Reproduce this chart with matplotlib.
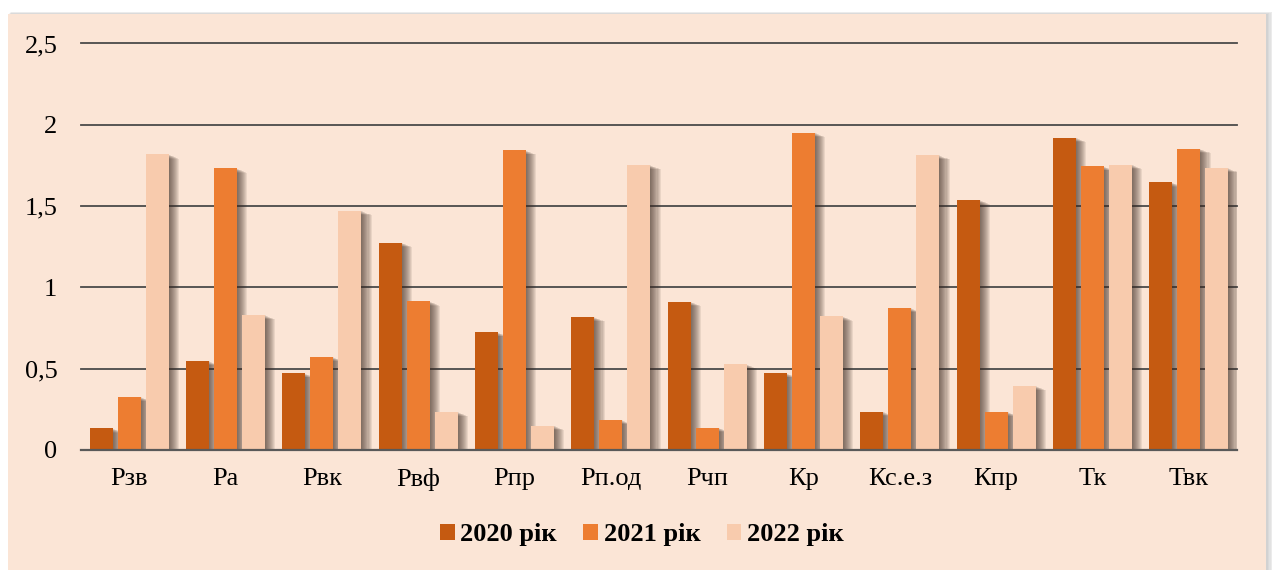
import matplotlib
matplotlib.use("Agg")
import matplotlib.pyplot as plt
import numpy as np
from matplotlib import patheffects as pe
from matplotlib.patches import Rectangle

categories = ["Рзв", "Ра", "Рвк", "Рвф", "Рпр", "Рп.од", "Рчп", "Кр", "Кс.е.з", "Кпр", "Тк", "Твк"]
series_names = ["2020 рік", "2021 рік", "2022 рік"]
values_2020 = [0.133, 0.547, 0.472, 1.275, 0.724, 0.818, 0.912, 0.472, 0.236, 1.538, 1.921, 1.646]
values_2021 = [0.326, 1.732, 0.572, 0.914, 1.843, 0.184, 0.137, 1.952, 0.873, 0.234, 1.745, 1.853]
values_2022 = [1.818, 0.830, 1.472, 0.234, 0.150, 1.753, 0.527, 0.822, 1.814, 0.394, 1.755, 1.734]
y_ticks = [0, 0.5, 1, 1.5, 2, 2.5]
y_tick_labels = ["0", "0,5", "1", "1,5", "2", "2,5"]

colors = ["#C55A11", "#ED7D31", "#F8CBAD"]
bg = "#FBE5D6"

W, H = 1272, 570
fig = plt.figure(figsize=(W / 100, H / 100), dpi=100, facecolor="white")

# chart frame with soft shadow on the top and right
for k in range(6):
    fig.patches.append(Rectangle(((8 + k * 0.6) / W, 0), (1258 + k) / W, (556 + k * 0.4) / H,
                                 transform=fig.transFigure, facecolor="#808080",
                                 alpha=0.08, edgecolor="none", zorder=-3))
fig.patches.append(Rectangle((8 / W, 0), 1258 / W, 556 / H, transform=fig.transFigure,
                             facecolor=bg, edgecolor="none", zorder=-2))

ax = fig.add_axes([81 / W, 1 - 450 / H, (1237 - 81) / W, (450 - 43.5) / H])
ax.set_facecolor("none")

x = np.arange(len(categories))
width = 0.236
step = 0.291

# soft drop shadow: stacked translucent copies shifted right and slightly down
shadow = [pe.SimplePatchShadow(offset=(d * 0.75, -d * 0.3), shadow_rgbFace="#3a2a22", alpha=0.09)
          for d in range(1, 11)] + [pe.Normal()]

for i, (vals, name) in enumerate(zip([values_2020, values_2021, values_2022], series_names)):
    bars = ax.bar(x + (i - 1) * step, vals, width, color=colors[i], label=name, zorder=3,
                  edgecolor="none")
    for b in bars:
        b.set_path_effects(shadow)

ax.set_xlim(-0.5, len(categories) - 0.5)
ax.set_ylim(0, 2.5)
ax.set_yticks(y_ticks)
ax.set_yticklabels(y_tick_labels)
ax.set_xticks(x)
ax.set_xticklabels(categories)

for v in y_ticks[1:]:
    ax.axhline(v, color="#4a4a4a", lw=1.3, zorder=1, clip_on=False)
ax.axhline(0, color="#595959", lw=1.6, zorder=4, clip_on=False)

for s in ax.spines.values():
    s.set_visible(False)
ax.tick_params(axis="both", length=0, labelsize=19)
ax.tick_params(axis="y", pad=17)
ax.tick_params(axis="x", pad=13)
for lab in ax.get_xticklabels() + ax.get_yticklabels():
    lab.set_fontfamily("Liberation Serif")

leg = fig.legend(loc="center", bbox_to_anchor=(642 / W, 1 - 535 / H), ncol=3, frameon=False,
                 prop={"family": "Liberation Serif", "weight": "bold", "size": 19},
                 handlelength=0.55, handleheight=0.55, handletextpad=0.22, columnspacing=1.0)
for h in leg.legend_handles:
    h.set_path_effects([])

fig.savefig("out.png", dpi=100, facecolor="white")
